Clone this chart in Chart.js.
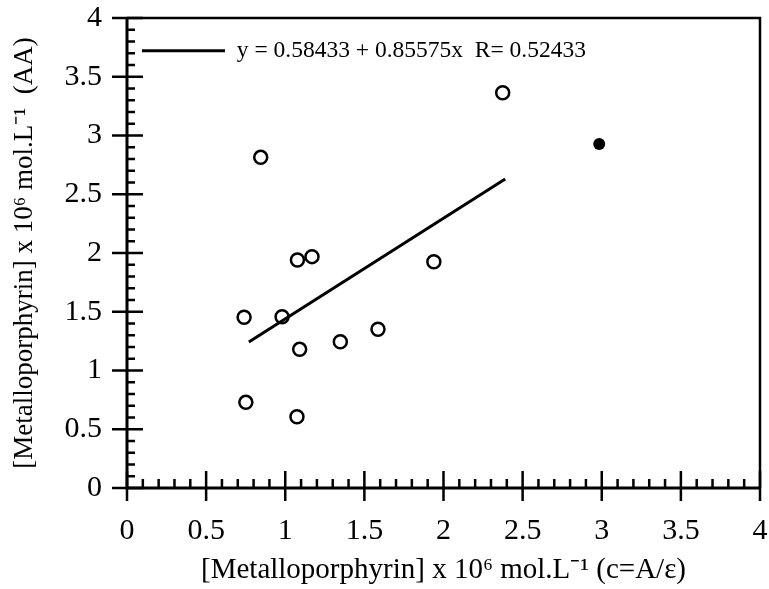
<!DOCTYPE html>
<html>
<head>
<meta charset="utf-8">
<script src="https://cdn.jsdelivr.net/npm/chart.js@4.4.1/dist/chart.umd.min.js"></script>
<style>
  html, body { margin: 0; padding: 0; background: #fff; }
  canvas { display: block; }
</style>
</head>
<body>
<canvas id="chart" width="769" height="589"></canvas>
<script>
// 読み取った値（白丸）
const openX = [0.845, 0.740, 0.751, 1.077, 1.169, 0.980, 1.091, 1.348, 1.586, 1.074, 1.939, 2.374];
const openY = [2.814, 1.453, 0.729, 1.940, 1.969, 1.458, 1.180, 1.245, 1.351, 0.607, 1.926, 3.364];

// 黒丸（回帰から外れた点）
const filledX = [2.984];
const filledY = [2.928];

// 回帰直線の両端
const fitX = [0.77, 2.39];
const fitY = [1.243, 2.630];
const fitLabel = 'y = 0.58433 + 0.85575x  R= 0.52433';

// 目盛り
const axisMin = 0;
const axisMax = 4;
const majorStep = 0.5;
const minorStep = 0.1;

const xTitle = '[Metalloporphyrin] x 10\u2076 mol.L\u207B\u00B9 (c=A/\u03B5)';
const yTitle = '[Metalloporphyrin] x 10\u2076 mol.L\u207B\u00B9  (AA)';

const serif = "'Liberation Serif', 'Times New Roman', serif";

const toPoints = (xs, ys) => xs.map((x, i) => ({ x: x, y: ys[i] }));
const tickText = (v) => String(Number(v.toFixed(1)));

// 枠と目盛り線を描くプラグイン
const frameTicks = {
  id: 'frameTicks',
  afterDraw(chart) {
    const { ctx, chartArea: a, scales: { x, y } } = chart;
    ctx.save();
    ctx.strokeStyle = '#000';
    ctx.lineCap = 'butt';

    // 上と右の枠
    ctx.lineWidth = 2.5;
    ctx.beginPath();
    ctx.moveTo(a.left, a.top);
    ctx.lineTo(a.right, a.top);
    ctx.lineTo(a.right, a.bottom);
    ctx.stroke();

    // 左と下の軸
    ctx.lineWidth = 3;
    ctx.beginPath();
    ctx.moveTo(a.left, a.top - 1);
    ctx.lineTo(a.left, a.bottom);
    ctx.lineTo(a.right, a.bottom);
    ctx.stroke();

    ctx.lineWidth = 2.5;
    const n = Math.round((axisMax - axisMin) / minorStep);
    const every = Math.round(majorStep / minorStep);
    for (let i = 0; i <= n; i++) {
      const v = axisMin + i * minorStep;
      const px = x.getPixelForValue(v);
      const py = y.getPixelForValue(v);
      ctx.beginPath();
      if (i % every === 0) {
        ctx.moveTo(px, a.bottom + 13);
        ctx.lineTo(px, a.bottom - 17);
        ctx.moveTo(a.left - 15, py);
        ctx.lineTo(a.left + 16, py);
      } else {
        ctx.moveTo(px, a.bottom);
        ctx.lineTo(px, a.bottom - 9);
        ctx.moveTo(a.left, py);
        ctx.lineTo(a.left + 8, py);
      }
      ctx.stroke();
    }
    ctx.restore();
  }
};

const ctx = document.getElementById('chart').getContext('2d');
new Chart(ctx, {
  type: 'scatter',
  data: {
    datasets: [
      {
        label: 'open',
        data: toPoints(openX, openY),
        pointStyle: 'circle',
        pointRadius: 6.5,
        pointBorderWidth: 2.5,
        borderColor: '#000',
        backgroundColor: 'rgba(0,0,0,0)'
      },
      {
        label: 'filled',
        data: toPoints(filledX, filledY),
        pointStyle: 'circle',
        pointRadius: 6,
        pointBorderWidth: 0,
        borderColor: '#000',
        backgroundColor: '#000'
      },
      {
        label: fitLabel,
        data: toPoints(fitX, fitY),
        showLine: true,
        pointRadius: 0,
        borderColor: '#000',
        backgroundColor: '#000',
        borderWidth: 3
      }
    ]
  },
  options: {
    responsive: false,
    animation: false,
    layout: {
      padding: { top: 18, right: 8, left: 0, bottom: 0 }
    },
    plugins: {
      tooltip: { enabled: false },
      legend: {
        position: 'chartArea',
        align: 'start',
        title: {
          display: true,
          text: ' ',
          padding: { top: 18, bottom: 0 },
          font: { size: 6, lineHeight: 1 }
        },
        labels: {
          boxWidth: 83,
          boxHeight: 3,
          padding: 15,
          color: '#000',
          font: { family: serif, size: 23.5 },
          generateLabels: () => [{
            text: fitLabel,
            fillStyle: '#000',
            strokeStyle: '#000',
            fontColor: '#000',
            lineWidth: 0,
            hidden: false,
            datasetIndex: 2
          }]
        }
      }
    },
    scales: {
      x: {
        type: 'linear',
        min: axisMin,
        max: axisMax,
        afterFit: (scale) => {
          scale.height = 101;
          scale.paddingLeft = 0;
          scale.paddingRight = 0;
        },
        grid: { display: false },
        border: { display: false },
        ticks: {
          stepSize: majorStep,
          padding: 17,
          color: '#000',
          maxRotation: 0,
          callback: tickText,
          font: { family: serif, size: 30 }
        },
        title: {
          display: true,
          text: xTitle,
          color: '#000',
          padding: { top: 0, bottom: 1 },
          font: { family: serif, size: 29 }
        }
      },
      y: {
        type: 'linear',
        min: axisMin,
        max: axisMax,
        afterFit: (scale) => {
          scale.width = 127;
          scale.paddingTop = 0;
          scale.paddingBottom = 0;
        },
        grid: { display: false },
        border: { display: false },
        ticks: {
          stepSize: majorStep,
          padding: 17,
          color: '#000',
          callback: tickText,
          font: { family: serif, size: 30 }
        },
        title: {
          display: true,
          text: yTitle,
          color: '#000',
          padding: { top: 9, bottom: 0 },
          font: { family: serif, size: 27 }
        }
      }
    }
  },
  plugins: [frameTicks]
});
</script>
</body>
</html>
